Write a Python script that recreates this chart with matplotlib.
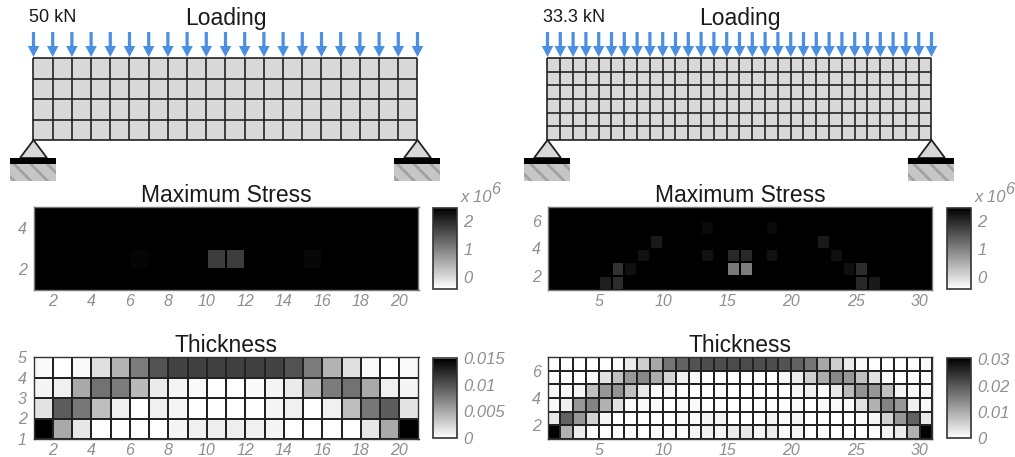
import numpy as np
import matplotlib
matplotlib.use('Agg')
import matplotlib.pyplot as plt
from matplotlib.patches import Polygon, Rectangle

plt.rcParams['font.family'] = ['Liberation Sans', 'DejaVu Sans']
plt.rcParams['hatch.linewidth'] = 2.0

W, H = 1015, 457

# stress in units of 1e6, listed from top row to bottom row
stress_left = np.full((4, 20), 2.6)
stress_left[2, 5] = 2.38
stress_left[2, 9] = 1.77
stress_left[2, 10] = 1.75
stress_left[2, 14] = 2.36

stress_right = np.full((6, 30), 2.6)
stress_right_cells = [
    (1, 12, 2.33), (1, 17, 2.33), (2, 8, 2.16), (2, 21, 2.16),
    (3, 7, 2.24), (3, 12, 2.24), (3, 14, 1.99), (3, 15, 1.99),
    (3, 17, 2.24), (3, 22, 2.27), (4, 5, 1.88), (4, 6, 2.27),
    (4, 14, 1.10), (4, 15, 1.05), (4, 23, 2.27), (4, 24, 1.94),
    (5, 4, 2.10), (5, 5, 1.94), (5, 24, 1.99), (5, 25, 2.16),
]
for r, c, v in stress_right_cells:
    stress_right[r, c] = v

thickness_left = np.array([
    [.0003, 0, .0003, .0018, .0044, .0076, .0100, .0109, .0110, .0110,
     .0110, .0110, .0109, .0100, .0076, .0044, .0018, .0003, 0, .0003],
    [.0006, .0009, .0050, .0082, .0076, .0041, .0012, .0006, .0003, 0,
     0, .0003, .0006, .0012, .0041, .0076, .0082, .0050, .0009, .0006],
    [.0016, .0094, .0079, .0038, .0009, 0, .0009, .0006, 0, 0,
     0, 0, .0006, .0009, 0, .0009, .0038, .0079, .0094, .0016],
    [.0160, .0050, .0014, 0, 0, 0, 0, .0006, .0009, .0010,
     .0010, .0009, .0006, 0, 0, 0, 0, .0014, .0050, .0160],
])

thickness_right = np.array([
    [0, 0, 0, 0, 0, .0006, .0024, .0059, .0106, .0165, .0188, .0206, .0212, .0212, .0215,
     .0215, .0212, .0212, .0206, .0188, .0165, .0106, .0059, .0024, .0006, 0, 0, 0, 0, .0006],
    [.0004, 0, 0, .0006, .0035, .0076, .0124, .0141, .0100, .0053, .0018, .0008, 0, 0, 0,
     0, 0, 0, .0012, .0024, .0059, .0100, .0141, .0124, .0076, .0035, .0006, 0, 0, .0004],
    [.0006, .0006, .0012, .0076, .0124, .0129, .0076, .0029, .0006, .0012, 0, 0, 0, 0, 0,
     0, 0, 0, 0, .0012, .0018, .0006, .0029, .0082, .0129, .0124, .0076, .0012, .0006, .0006],
    [.0008, .0018, .0124, .0147, .0094, .0035, .0006, .0006, .0006, 0, .0006, .0006, 0, 0, 0,
     0, 0, 0, 0, .0008, 0, .0006, .0008, .0006, .0035, .0094, .0147, .0124, .0018, .0008],
    [.0029, .0188, .0124, .0053, .0012, 0, 0, 0, 0, 0, .0006, .0006, .0012, .0012, 0,
     0, 0, .0012, .0006, .0012, 0, 0, 0, 0, .0006, .0012, .0053, .0124, .0188, .0029],
    [.0320, .0094, .0024, .0006, 0, 0, 0, 0, 0, .0006, .0006, .0012, .0018, .0012, .0024,
     .0029, .0012, .0024, .0006, .0012, 0, 0, 0, 0, 0, .0006, .0012, .0024, .0094, .0320],
])

stress_ticks = [0, 1, 2]
stress_labels = ['0', '1', '2']
thick_ticks_left = [0, 0.005, 0.01, 0.015]
thick_labels_left = ['0', '0.005', '0.01', '0.015']
thick_ticks_right = [0, 0.01, 0.02, 0.03]
thick_labels_right = ['0', '0.01', '0.02', '0.03']
load_labels = ['50 kN', '33.3 kN']

tick_grey = '#8f8f8f'
blue = '#4a90e2'
fill_grey = '#d8d8d8'


def axes_px(fig, x0, y0, x1, y1):
    return fig.add_axes([x0 / W, 1 - y1 / H, (x1 - x0) / W, (y1 - y0) / H])


def heat(fig, data, top, bottom, x0, vmin, vmax, title, xticks, yticks, cticks, clabels, edge, spine):
    x1 = x0 + 385
    ax = axes_px(fig, x0, top, x1, bottom)
    ny, nx = data.shape
    m = ax.pcolormesh(np.arange(1, nx + 2), np.arange(1, ny + 2), data[::-1], cmap='gray_r',
                      vmin=vmin, vmax=vmax, edgecolors=edge, linewidth=1.3)
    ax.set_xticks(xticks)
    ax.set_yticks(yticks)
    ax.tick_params(axis='x', length=0, labelsize=11.5, labelcolor=tick_grey, pad=3)
    ax.tick_params(axis='y', length=0, labelsize=11.5, labelcolor=tick_grey, pad=5)
    for lab in ax.get_xticklabels() + ax.get_yticklabels():
        lab.set_fontstyle('italic')
    for s in ax.spines.values():
        s.set_color(spine)
        s.set_linewidth(1.0)
    ax.set_title(title, fontsize=16.5, color='#1a1a1a', pad=2.5)

    cax = axes_px(fig, x1 + 14.5, top + 1, x1 + 38, bottom - 1)
    cb = fig.colorbar(m, cax=cax)
    cb.set_ticks(cticks, labels=clabels)
    cb.ax.tick_params(length=0, labelsize=12, labelcolor=tick_grey, pad=5)
    for lab in cb.ax.get_yticklabels():
        lab.set_fontstyle('italic')
    cb.outline.set_edgecolor('#333333')
    cb.outline.set_linewidth(1.2)


def beam(ov, x0, nx, ny, label):
    x1 = x0 + 384
    top, bottom = 58, 140
    xs = np.linspace(x0, x1, nx + 1)
    ys = np.linspace(top, bottom, ny + 1)
    ov.add_patch(Rectangle((x0, top), x1 - x0, bottom - top, fc=fill_grey, ec='none'))
    ov.vlines(xs, top, bottom, color='#222222', lw=1.2)
    ov.hlines(ys, x0, x1, color='#222222', lw=1.2)
    for x in xs:
        ov.arrow(x, 32, 0, 25, width=3.2, head_width=11.5, head_length=11,
                 length_includes_head=True, color=blue, lw=0, zorder=3)
    for cx in (x0, x1):
        ov.add_patch(Polygon([(cx, bottom), (cx - 13.5, 158), (cx + 13.5, 158)],
                             fc=fill_grey, ec='#222222', lw=1.3))
        ov.add_patch(Rectangle((cx - 23, 164), 46, 17, fc='#c6c6c6', ec='#a2a2a2', lw=0,
                               hatch='\\\\'))
        ov.add_patch(Rectangle((cx - 23, 158), 46, 6, fc='black', ec='none'))
    ov.text(x0 - 4, 17.5, label, fontsize=13, color='#1a1a1a', ha='left', va='center')
    ov.text(x0 + 192, 18.5, 'Loading', fontsize=16.5, color='#1a1a1a', ha='center', va='center')
    ov.text(x1 + 43, 197, 'x 10', fontsize=12, color=tick_grey, style='italic', ha='left', va='center')
    ov.text(x1 + 74, 189, '6', fontsize=11.5, color=tick_grey, style='italic', ha='left', va='center')


fig = plt.figure(figsize=(W / 100, H / 100), dpi=100, facecolor='white')

ov = fig.add_axes([0, 0, 1, 1])
ov.set_xlim(0, W)
ov.set_ylim(H, 0)
ov.axis('off')
beam(ov, 33.5, 20, 4, load_labels[0])
beam(ov, 547.5, 30, 6, load_labels[1])

heat(fig, stress_left, 207, 290, 33.5, -0.41, 2.44, 'Maximum Stress',
     range(2, 21, 2), [2, 4], stress_ticks, stress_labels, 'black', '#777777')
heat(fig, stress_right, 207, 290, 547.5, -0.41, 2.44, 'Maximum Stress',
     range(5, 31, 5), [2, 4, 6], stress_ticks, stress_labels, 'black', '#777777')
heat(fig, thickness_left, 357, 439, 33.5, 0, 0.0148, 'Thickness',
     range(2, 21, 2), [1, 2, 3, 4, 5], thick_ticks_left, thick_labels_left, '#222222', '#333333')
heat(fig, thickness_right, 357, 439, 547.5, 0, 0.0305, 'Thickness',
     range(5, 31, 5), [2, 4, 6], thick_ticks_right, thick_labels_right, '#222222', '#333333')

fig.savefig('out.png', dpi=100)
